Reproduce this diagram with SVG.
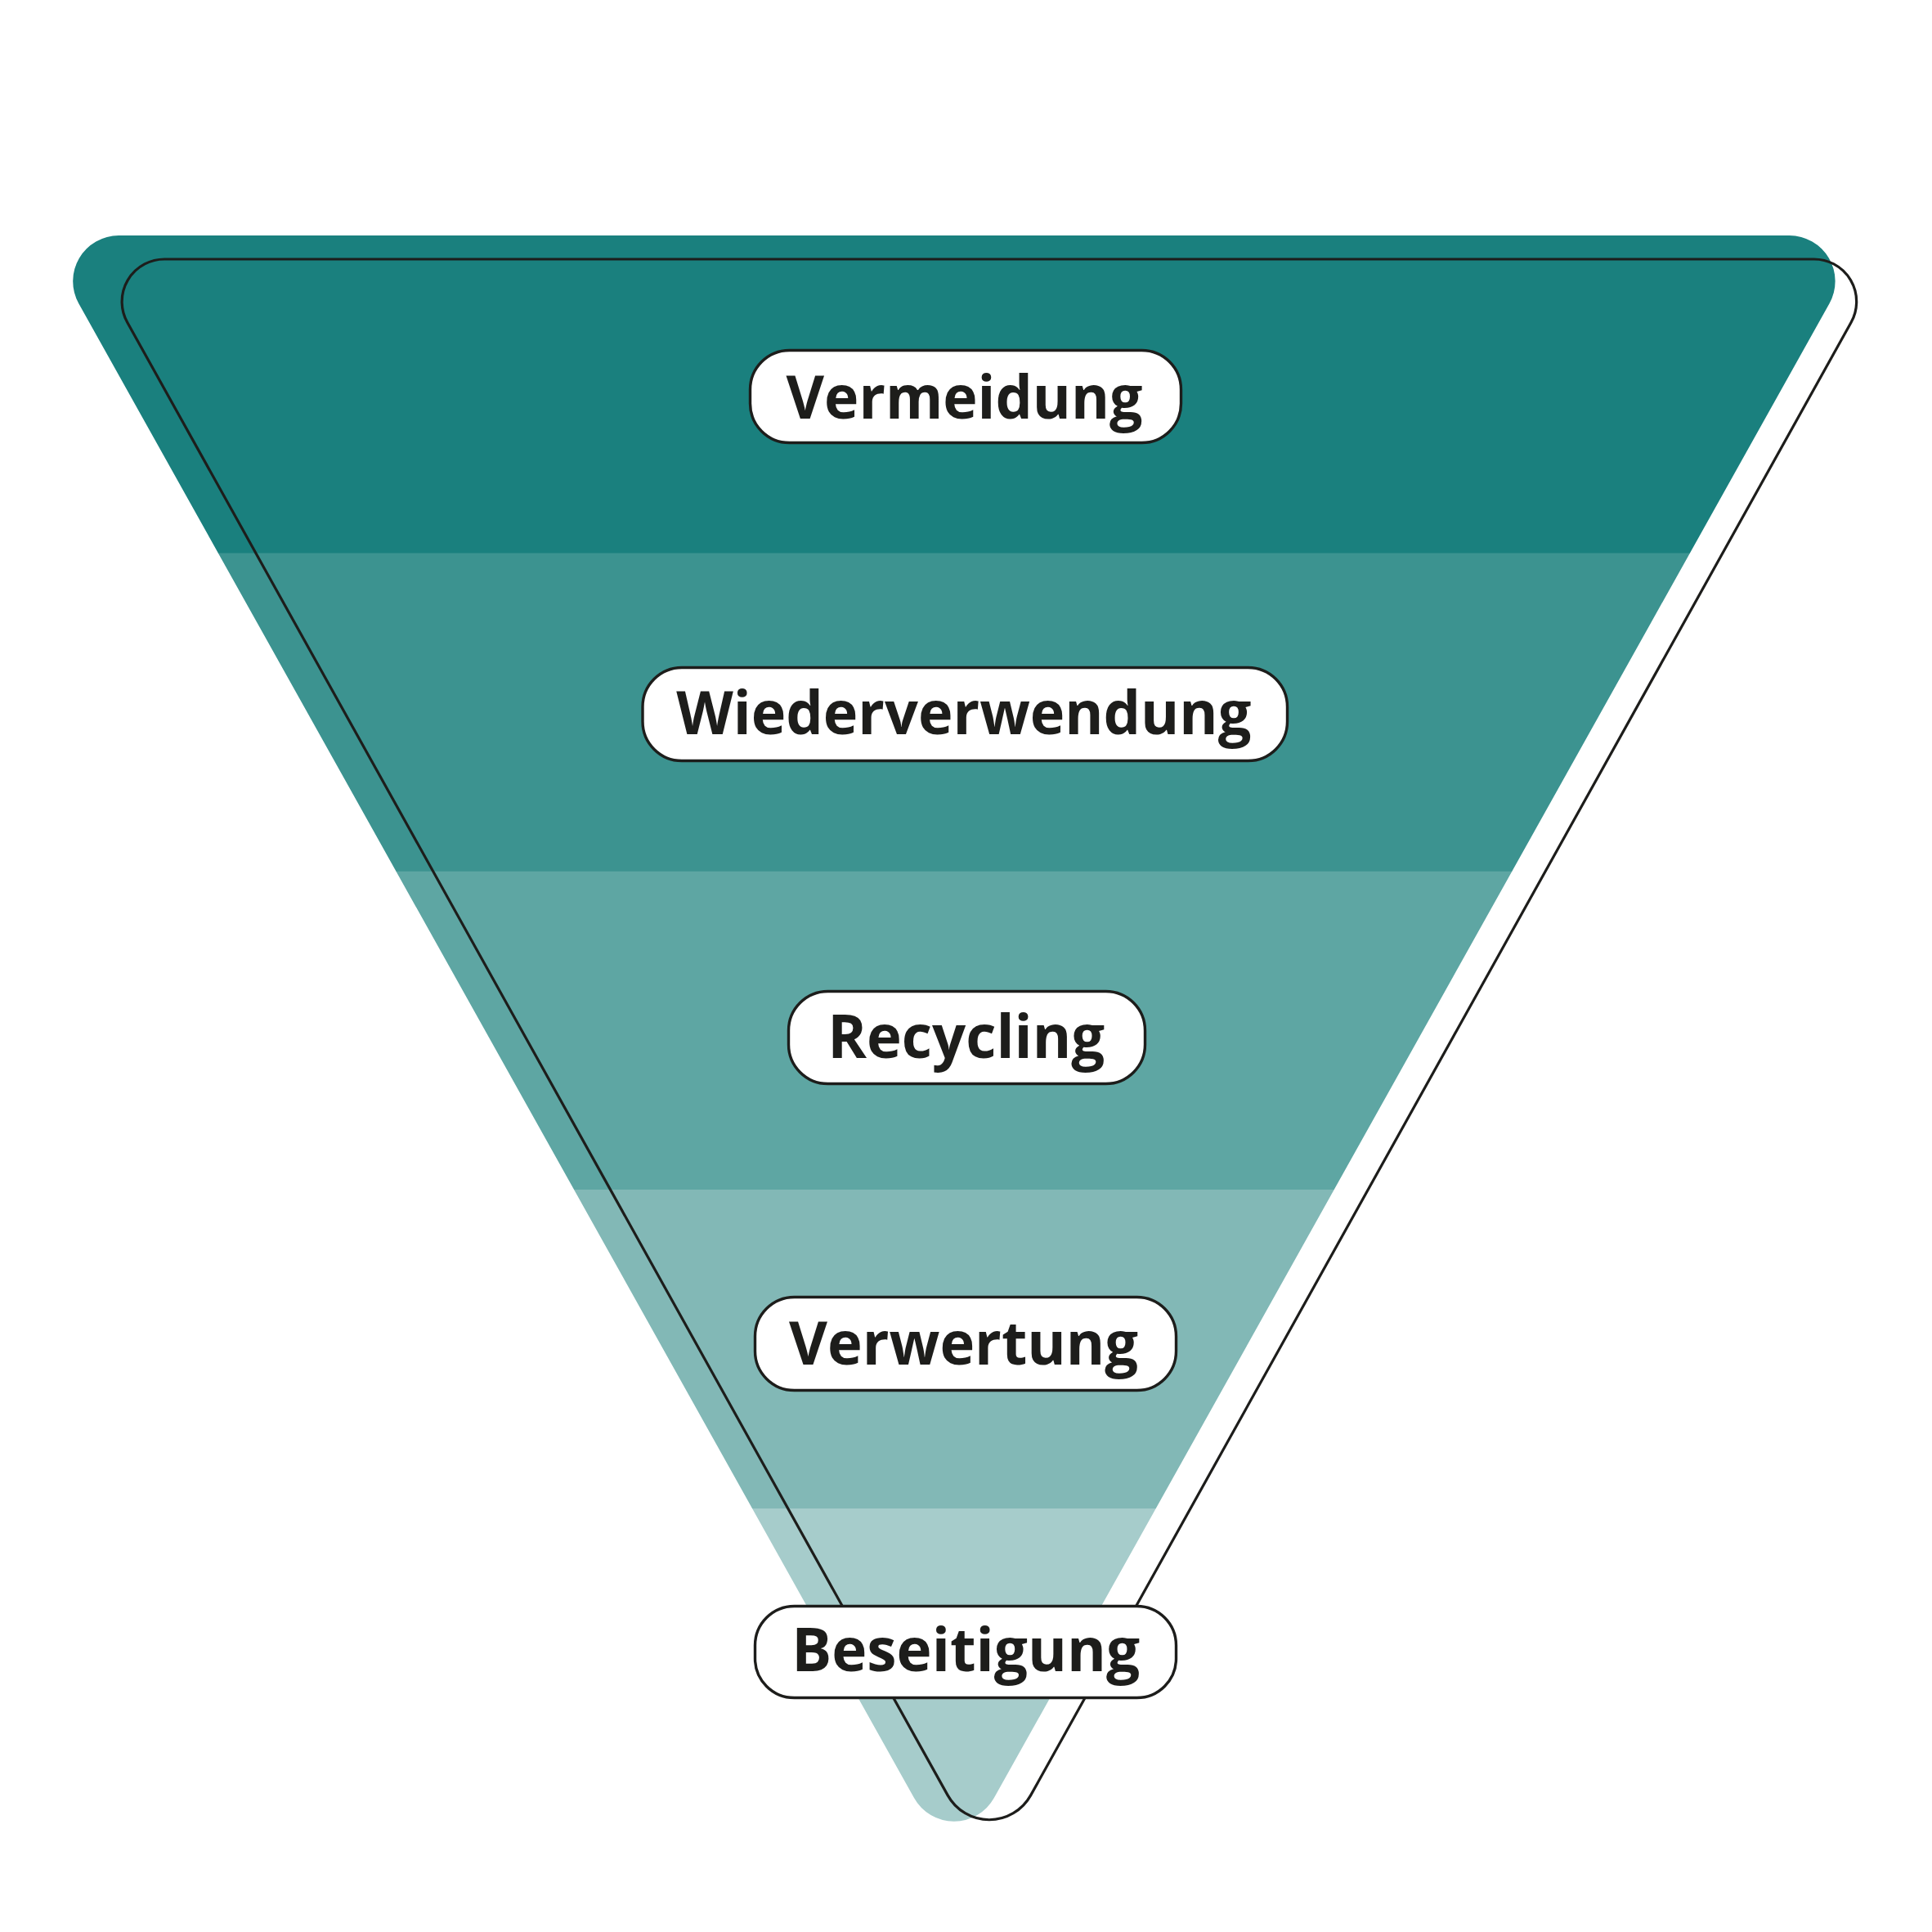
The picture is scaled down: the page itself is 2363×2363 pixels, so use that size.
<svg xmlns="http://www.w3.org/2000/svg" width="2363" height="2363" viewBox="0 0 2363 2363">
  <style>
    .pill { fill: #ffffff; stroke: #1d1d1b; stroke-width: 3.4; }
    .label { font-family: "Open Sans", "Noto Sans", "Liberation Sans", sans-serif; font-weight: 700; font-size: 74px; fill: #1d1d1b; text-anchor: middle; }
    .outline { fill: none; stroke: #1d1d1b; stroke-width: 3.2; stroke-linejoin: round; }
  </style>
  <defs>
    <clipPath id="funnelClip">
      <path d="M145.2,288 H2188.7 A56,56 0 0 1 2237.5,371.3 L1215.8,2199.1 A56,56 0 0 1 1118,2199.1 L96.3,371.3 A56,56 0 0 1 145.2,288 Z"/>
    </clipPath>
  </defs>
  <rect width="2363" height="2363" fill="#ffffff"/>

  <g id="funnel">
    <g clip-path="url(#funnelClip)">
      <rect x="0" y="280" width="2363" height="397" fill="#1a807e"/>
      <rect x="0" y="676.5" width="2363" height="389.5" fill="#3c9390"/>
      <rect x="0" y="1065.7" width="2363" height="389.5" fill="#5ea6a3"/>
      <rect x="0" y="1455" width="2363" height="390" fill="#82b8b6"/>
      <rect x="0" y="1845" width="2363" height="400" fill="#a6cccb"/>
    </g>
    <path class="outline" d="M201.1,317 H2218.7 A52,52 0 0 1 2264.1,394.3 L1260.6,2195.9 A58,58 0 0 1 1159.2,2195.9 L155.7,394.3 A52,52 0 0 1 201.1,317 Z"/>
  </g>

  <g id="node-vermeidung">
    <rect class="pill" x="917.5" y="428.5" width="527" height="113" rx="48" ry="48"/>
    <text class="label" x="1179.5" y="512" textLength="436" lengthAdjust="spacingAndGlyphs">Vermeidung</text>
  </g>
  <g id="node-wiederverwendung">
    <rect class="pill" x="786" y="816.5" width="788.5" height="114" rx="48" ry="48"/>
    <text class="label" x="1178.8" y="898" textLength="703" lengthAdjust="spacingAndGlyphs">Wiederverwendung</text>
  </g>
  <g id="node-recycling">
    <rect class="pill" x="964.5" y="1212.5" width="436" height="113" rx="48" ry="48"/>
    <text class="label" x="1181.7" y="1294" textLength="339" lengthAdjust="spacingAndGlyphs">Recycling</text>
  </g>
  <g id="node-verwertung">
    <rect class="pill" x="923.5" y="1586.5" width="515" height="114" rx="48" ry="48"/>
    <text class="label" x="1178.6" y="1669" textLength="427" lengthAdjust="spacingAndGlyphs">Verwertung</text>
  </g>
  <g id="node-beseitigung">
    <rect class="pill" x="923.5" y="1964.5" width="515" height="112" rx="48" ry="48"/>
    <text class="label" x="1181.2" y="2044" textLength="426" lengthAdjust="spacingAndGlyphs">Beseitigung</text>
  </g>
</svg>
